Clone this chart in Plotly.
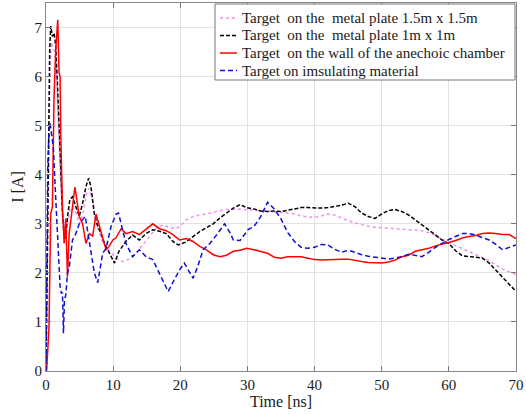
import plotly.graph_objects as go

# ---- data ----
t_pink = [0, 0.2, 0.4, 0.6, 0.8, 1.0, 1.3, 1.6, 1.9, 2.2,
          2.5, 2.8, 3.2, 3.6, 4.0, 4.5, 5.0, 5.5, 6.0, 6.4,
          6.9, 7.5, 8.0, 8.5, 9.4, 10.4, 11.4, 12.4, 13.4, 14.4,
          15.4, 16.4, 17.4, 18.4, 19.4, 20.2, 20.9, 21.9, 22.9, 23.9,
          25.4, 26.9, 28.4, 29.9,
          31, 32, 33, 34, 35, 36, 37, 38, 39, 40,
          41, 42, 43, 44, 45, 46, 47, 48, 49, 50,
          51, 52, 53, 54, 55, 56, 57, 58, 59, 60,
          61, 62, 63, 64, 65, 66, 67, 68, 69, 70]
i_pink = [0, 2.0, 4.5, 6.2, 6.7, 6.6, 6.5, 6.0, 4.8, 3.8,
          3.1, 2.9, 3.0, 3.3, 3.35, 3.2, 3.0, 3.2, 3.6, 3.72,
          3.5, 3.0, 2.8, 2.6, 2.47, 2.3, 2.23, 2.28, 2.4, 2.57,
          2.74, 2.91, 2.98, 2.92, 2.9, 2.98, 3.08, 3.15, 3.18, 3.2,
          3.25, 3.29, 3.3, 3.28,
          3.28, 3.27, 3.26, 3.25, 3.23, 3.22, 3.2, 3.16, 3.14, 3.13,
          3.16, 3.2, 3.18, 3.12, 3.06, 3.02, 2.98, 2.95, 2.93, 2.92,
          2.91, 2.91, 2.9, 2.89, 2.88, 2.86, 2.82, 2.76, 2.68, 2.62,
          2.56, 2.5, 2.44, 2.38, 2.32, 2.25, 2.16, 2.08, 2.02, 1.96]

t_black = [0, 0.2, 0.35, 0.55, 0.7, 0.95, 1.2, 1.45, 1.7, 1.95,
           2.2, 2.45, 2.7, 2.95, 3.2, 3.55, 3.95, 4.45, 4.95, 5.45,
           5.95, 6.35, 6.7, 7.2, 7.7, 8.2, 8.7, 9.45, 10.2, 10.9,
           11.9, 12.9, 13.9, 14.9, 15.9, 16.9, 17.9, 18.9, 19.7, 20.7,
           21.9, 22.9, 23.9, 24.9, 25.9, 26.9, 27.9, 28.9, 29.9,
           31, 32, 33, 34, 35, 36, 37, 38, 39, 40,
           41, 42, 43, 44, 45, 46, 47, 48, 49, 50,
           51, 52, 53, 54, 55, 56, 57, 58, 59, 60,
           61, 62, 63, 64, 65, 66, 67, 68, 69, 70]
i_black = [0, 2.8, 4.85, 6.55, 7.03, 6.82, 6.89, 6.62, 5.87, 4.85,
           4.03, 3.2, 2.8, 2.7, 3.15, 3.49, 3.55, 3.35, 3.15, 3.42,
           3.76, 3.93, 3.75, 3.2, 2.95, 2.8, 2.6, 2.4, 2.2, 2.45,
           2.64, 2.77, 2.67, 2.8, 2.88, 2.85, 2.8, 2.64, 2.57, 2.62,
           2.74, 2.84, 2.92, 3.0, 3.12, 3.22, 3.32, 3.39, 3.33,
           3.3, 3.26, 3.25, 3.26, 3.25, 3.28, 3.3, 3.33, 3.33, 3.32,
           3.32, 3.33, 3.35, 3.38, 3.42, 3.35, 3.22, 3.15, 3.11, 3.2,
           3.27, 3.29, 3.25, 3.18, 3.08, 2.98, 2.88, 2.77, 2.67, 2.6,
           2.45, 2.35, 2.33, 2.32, 2.3, 2.2, 2.05, 1.9, 1.75, 1.62]

t_red = [0, 0.1, 0.45, 0.7, 0.95, 1.2, 1.45, 1.75, 1.95, 2.1,
         2.2, 2.45, 2.7, 2.95, 3.2, 3.45, 3.95, 4.3, 4.45, 4.95,
         5.45, 5.95, 6.45, 6.95, 7.45, 7.95, 8.45, 8.95, 9.45, 9.95,
         10.4, 11.2, 11.9, 12.9, 13.9, 14.9, 15.9, 16.9, 17.9, 18.9,
         19.9, 20.9, 21.9, 22.9, 23.9, 24.9, 25.9, 26.9, 27.9, 28.9,
         29.9,
         31, 32, 33, 34, 35, 36, 37, 38, 39, 40,
         41, 42, 43, 44, 45, 46, 47, 48, 49, 50,
         51, 52, 53, 54, 55, 56, 57, 58, 59, 60,
         61, 62, 63, 64, 65, 66, 67, 68, 69, 70]
i_red = [0, 0.02, 0.9, 3.2, 3.35, 5.6, 6.55, 7.16, 6.08, 6.0,
         4.85, 3.35, 2.6, 3.1, 1.92, 2.8, 3.35, 3.75, 3.62, 3.15,
         3.0, 2.6, 2.8, 2.75, 3.2, 2.95, 2.7, 2.47, 2.55, 2.67,
         2.71, 2.9, 2.8, 2.84, 2.78, 2.9, 3.0, 2.9, 2.86, 2.78,
         2.67, 2.7, 2.64, 2.54, 2.47, 2.37, 2.33, 2.36, 2.44, 2.46,
         2.5,
         2.47, 2.44, 2.4, 2.32, 2.3, 2.33, 2.33, 2.33, 2.3, 2.27,
         2.26, 2.27, 2.27, 2.28, 2.28, 2.25, 2.23, 2.21, 2.2, 2.2,
         2.22, 2.26, 2.33, 2.36, 2.44, 2.47, 2.5, 2.55, 2.58, 2.62,
         2.66, 2.71, 2.74, 2.76, 2.8, 2.81, 2.8, 2.78, 2.78, 2.7]

t_blue = [0, 0.1, 0.25, 0.45, 0.6, 0.85, 1.1, 1.35, 1.55, 1.75,
          1.95, 2.1, 2.3, 2.45, 2.6, 2.75, 2.95, 3.2, 3.45, 3.95,
          4.45, 4.95, 5.45, 5.85, 6.2, 6.7, 7.2, 7.7, 8.45, 8.95,
          9.7, 10.45, 10.8, 11.9, 12.9, 13.9, 14.9, 15.9, 16.9, 18.2,
          19.1, 19.9, 20.6, 21.4, 21.9, 22.6, 23.4, 24.4, 25.4, 26.6,
          27.4, 27.9, 28.9, 30.1,
          31, 32, 33, 34, 35, 36, 37, 38, 39, 40,
          41, 42, 43, 44, 45, 46, 47, 48, 49, 50,
          51, 52, 53, 54, 55, 56, 57, 58, 59, 60,
          61, 62, 63, 64, 65, 66, 67, 68, 69, 70]
i_blue = [0, 1.45, 4.1, 4.9, 5.05, 4.8, 4.55, 3.8, 3.2, 2.8,
          2.0, 1.72, 1.58, 1.6, 0.77, 1.45, 1.55, 2.0, 2.1, 2.67,
          2.8, 3.0, 3.08, 3.15, 2.85, 2.4, 2.0, 1.8, 2.4, 2.5,
          2.95, 3.2, 3.22, 2.6, 2.33, 2.47, 2.33, 2.27, 1.98, 1.62,
          1.86, 2.06, 2.2, 2.0, 1.89, 2.13, 2.47, 2.6, 2.77, 3.0,
          2.82, 2.67, 2.66, 2.88,
          2.95, 3.15, 3.44, 3.3, 3.1, 2.82, 2.64, 2.52, 2.5, 2.52,
          2.58, 2.57, 2.48, 2.42, 2.46, 2.42, 2.37, 2.34, 2.32, 2.3,
          2.28, 2.3, 2.33, 2.38, 2.36, 2.33, 2.42, 2.52, 2.6, 2.68,
          2.74, 2.8, 2.8, 2.77, 2.72, 2.67, 2.58, 2.47, 2.52, 2.57]

names = ["Target  on the  metal plate 1.5m x 1.5m",
         "Target  on the  metal plate 1m x 1m",
         "Target  on the wall of the anechoic chamber",
         "Target on imsulating material"]

x_ticks = [0, 10, 20, 30, 40, 50, 60, 70]
y_ticks = [0, 1, 2, 3, 4, 5, 6, 7]

styles = [dict(color="#ee90ee", width=1.5, dash="dot"),
          dict(color="#000000", width=1.5, dash="4px,2px"),
          dict(color="#ff0000", width=1.5, dash="solid"),
          dict(color="#1010d0", width=1.5, dash="5px,3px")]

series = [(t_pink, i_pink), (t_black, i_black), (t_red, i_red), (t_blue, i_blue)]

W, H = 526, 414
ML, MR, MT, MB = 46, 10, 3, 43
pw, ph = W - ML - MR, H - MT - MB


def px(x):
    return (x - ML) / pw


def py(y):
    return (H - MB - y) / ph


fig = go.Figure()
for (tx, iy), nm, ln in zip(series, names, styles):
    assert len(tx) == len(iy), nm
    fig.add_trace(go.Scatter(x=tx, y=iy, mode="lines", name=nm, line=ln,
                             showlegend=False))

serif = "Liberation Serif, Times New Roman, serif"

# legend box drawn in paper coordinates (MATLAB-style legend)
shapes = [dict(type="rect", xref="paper", yref="paper",
               x0=px(215), x1=px(515), y0=py(80), y1=py(4),
               line=dict(color="#777777", width=1), fillcolor="white", layer="above")]
annotations = []
rows = [18, 35.5, 53, 70.5]
for nm, ln, ry in zip(names, styles, rows):
    shapes.append(dict(type="line", xref="paper", yref="paper",
                       x0=px(220), x1=px(237), y0=py(ry), y1=py(ry),
                       line=dict(color=ln["color"], width=1.5, dash=ln["dash"]),
                       layer="above"))
    annotations.append(dict(xref="paper", yref="paper", x=px(240), y=py(ry),
                            xanchor="left", yanchor="middle", text=nm, showarrow=False,
                            font=dict(family=serif, size=15, color="#1a1a1a")))

fig.update_layout(
    width=W, height=H,
    margin=dict(l=ML, r=MR, t=MT, b=MB),
    paper_bgcolor="white", plot_bgcolor="white",
    font=dict(family=serif, size=15, color="#1a1a1a"),
    showlegend=False,
    shapes=shapes, annotations=annotations,
)
fig.update_xaxes(range=[0, 70], tickvals=x_ticks, ticks="inside", ticklen=5,
                 tickcolor="#777777", showline=True, linecolor="#888888",
                 mirror="ticks", showgrid=True, gridcolor="#e2e2e2", gridwidth=1,
                 zeroline=False, tickfont=dict(family=serif, size=15),
                 title=dict(text="Time [ns]", standoff=2,
                            font=dict(family=serif, size=16)))
fig.update_yaxes(range=[0, 7.5], tickvals=y_ticks, ticks="inside", ticklen=5,
                 tickcolor="#777777", showline=True, linecolor="#888888",
                 mirror="ticks", showgrid=True, gridcolor="#e2e2e2", gridwidth=1,
                 zeroline=False, tickfont=dict(family=serif, size=15),
                 title=dict(text="I [A]", standoff=6,
                            font=dict(family=serif, size=16)))

fig.write_html("out.html")
